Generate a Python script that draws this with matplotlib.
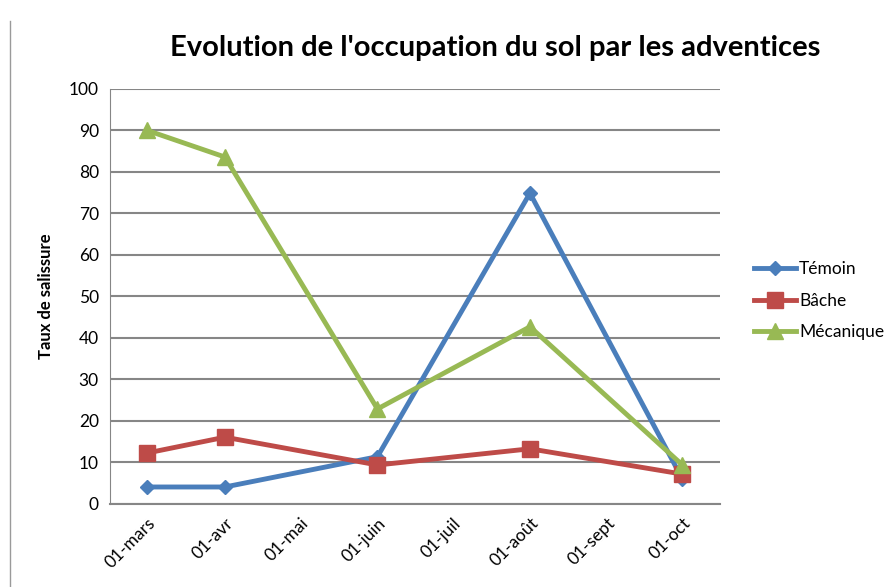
import datetime as dt
import matplotlib
matplotlib.use("Agg")
import matplotlib.pyplot as plt
from matplotlib.lines import Line2D

plt.rcParams['font.family'] = ['Lato', 'DejaVu Sans']

# donnees
dates = [dt.date(2010, 3, 1), dt.date(2010, 4, 1), dt.date(2010, 6, 1),
         dt.date(2010, 8, 1), dt.date(2010, 10, 1)]
temoin = [4.1, 4.1, 11.4, 74.9, 6.0]
bache = [12.3, 16.1, 9.4, 13.3, 7.2]
mecanique = [90.0, 83.6, 22.9, 42.7, 9.4]

mois = ['mars', 'avr', 'mai', 'juin', 'juil', 'août', 'sept', 'oct']
ticks = [dt.date(2010, m, 1) for m in range(3, 11)]
tick_labels = ['01-' + m for m in mois]

fig = plt.figure(figsize=(8.84, 5.87), dpi=100)
ax = fig.add_axes([0.1244, 0.1414, 0.690, 0.707])

ax.plot(dates, temoin, color='#4A7EBB', lw=3.5, marker='D', ms=7, label='Témoin')
ax.plot(dates, bache, color='#BE4B48', lw=3.5, marker='s', ms=11, label='Bâche')
ax.plot(dates, mecanique, color='#98B954', lw=3.5, marker='^', ms=11, label='Mécanique')

ax.set_ylim(0, 100)
ax.set_yticks(range(0, 101, 10))
ax.set_xlim(dt.date(2010, 2, 14), dt.date(2010, 10, 16))
ax.set_xticks(ticks)
ax.set_xticklabels(tick_labels, rotation=45, ha='right', rotation_mode='anchor')
ax.tick_params(axis='both', length=0, labelsize=12.5, colors='black', pad=8)

ax.yaxis.grid(True, color='#868686', lw=1.5)
ax.set_axisbelow(True)
for s in ['top', 'right']:
    ax.spines[s].set_visible(False)
ax.spines['left'].set_color('#868686')
ax.spines['bottom'].set_color('#868686')
ax.spines['bottom'].set_linewidth(1.5)

ax.set_ylabel('Taux de salissure', fontsize=12, fontweight='bold', labelpad=11)

fig.text(0.56, 0.918, "Evolution de l'occupation du sol par les adventices",
         ha='center', va='center', fontsize=21, fontweight='bold')

ax.legend(loc='center left', bbox_to_anchor=(1.03, 0.49), frameon=False,
          fontsize=12.5, handlelength=2.4, labelspacing=0.9, handletextpad=0.2)

fig.add_artist(Line2D([0.0115, 0.0115], [0.0, 0.965], color='#9a9a9a', lw=1))

fig.savefig('out.png', dpi=100)
